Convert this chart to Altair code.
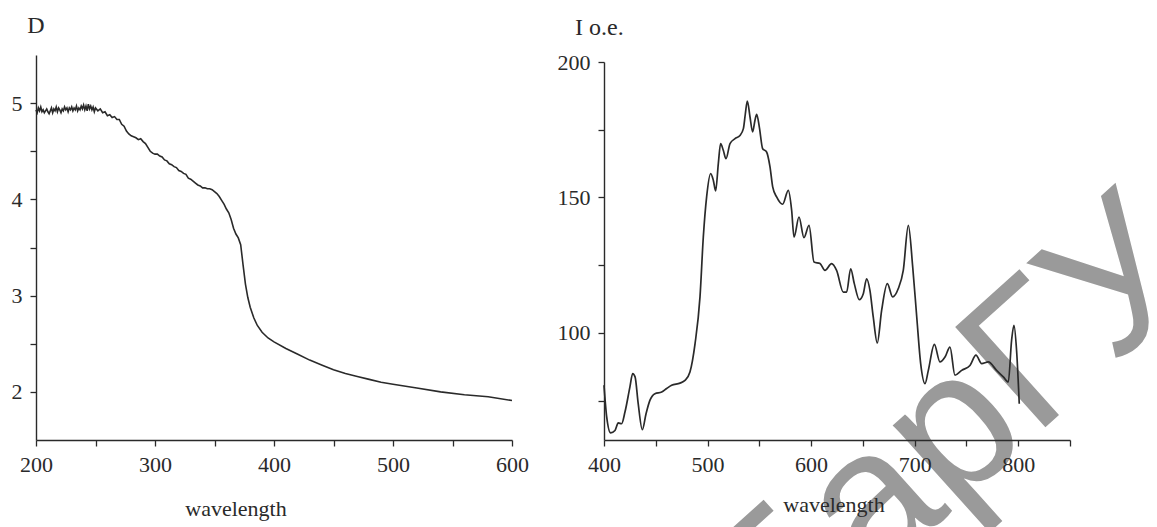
import altair as alt
import pandas as pd

# ---------------- data ----------------
# left panel: absorption D vs wavelength
wl_abs = [200, 201, 202, 203, 204, 205, 206, 207, 208, 209, 210, 211, 212, 213, 214, 215, 216,
          217, 218, 219, 220, 221, 222, 223, 224, 225, 226, 227, 228, 229, 230, 231, 232, 233,
          234, 235, 236, 237, 238, 239, 240, 241, 242, 243, 244, 245, 246, 247, 248, 249, 250,
          252, 254, 256, 258, 260, 262, 264, 266, 268, 270, 272, 274, 276, 278, 280, 282, 284,
          286, 288, 290, 292, 294, 296, 298, 300, 302, 304, 306, 308, 310, 312, 314, 316, 318,
          320, 322, 324, 326, 328, 330, 332, 334, 336, 338, 340, 342, 344, 346, 348, 350, 352,
          354, 356, 358, 360, 362, 364, 366, 368, 370, 372, 374, 376, 378, 380, 383, 386, 390,
          395, 400, 410, 420, 430, 440, 450, 460, 470, 480, 490, 500, 520, 540, 560, 580, 600]
d_abs = [4.93, 4.90, 4.95, 4.92, 4.96, 4.91, 4.93, 4.90, 4.92, 4.94, 4.91, 4.89, 4.92, 4.95, 4.90, 4.94, 4.92,
         4.96, 4.91, 4.95, 4.93, 4.90, 4.94, 4.92, 4.96, 4.93, 4.95, 4.91, 4.95, 4.93, 4.96, 4.92, 4.95, 4.93,
         4.97, 4.92, 4.95, 4.93, 4.97, 4.94, 4.98, 4.93, 4.97, 4.92, 4.99, 4.94, 4.97, 4.93, 4.96, 4.91, 4.95,
         4.92, 4.94, 4.90, 4.91, 4.87, 4.88, 4.85, 4.86, 4.83, 4.83, 4.78, 4.76, 4.71, 4.68, 4.66, 4.65, 4.64,
         4.62, 4.63, 4.60, 4.58, 4.54, 4.50, 4.48, 4.47, 4.47, 4.45, 4.44, 4.41, 4.40, 4.37, 4.36, 4.34, 4.33,
         4.30, 4.29, 4.27, 4.26, 4.22, 4.21, 4.19, 4.17, 4.15, 4.14, 4.12, 4.12, 4.11, 4.11, 4.10, 4.08, 4.06,
         4.03, 3.99, 3.95, 3.90, 3.86, 3.79, 3.70, 3.64, 3.60, 3.53, 3.32, 3.12, 2.98, 2.88, 2.77, 2.69, 2.62,
         2.56, 2.52, 2.45, 2.39, 2.33, 2.28, 2.23, 2.19, 2.16, 2.13, 2.10, 2.08, 2.04, 2.00, 1.97, 1.95, 1.91]

# right panel: emission intensity vs wavelength
wl_em = [400, 402.6, 406.4, 410.6, 413.8, 417, 420.3, 425, 427.7, 430, 433, 437, 440.6, 444.4,
         449.2, 455.7, 460.5, 465.3, 473.4, 478.2, 483, 487.9, 492.7, 495.9, 499.1, 503, 505.6,
         507.8, 510.4, 512.6, 515.2, 517.8, 521.7, 526.5, 531.3, 534.6, 536.5, 538.4, 541, 543.5,
         545.8, 547.4, 550, 553.2, 557, 560.3, 562.9, 566.7, 572.5, 578, 581.2, 583.5, 588.3,
         593.1, 598, 602.8, 608.6, 613.4, 619.8, 624.6, 631.1, 634.3, 638.2, 641.7, 646.5, 650.4,
         653.6, 656.8, 660, 663.9, 668.1, 673.6, 678.7, 684.2, 689, 693.9, 698.1, 702, 705.8,
         710, 713.2, 719, 724.4, 729.3, 734.1, 738.9, 745.4, 753.4, 759.2, 764.7, 771.1, 779.1,
         785.6, 790.4, 793.6, 795.9, 798.4, 801]
i_em = [80.7, 69, 63.1, 64, 66.8, 66.5, 70.9, 80, 85, 83.8, 74, 64.3, 70.2, 75.2,
        77.6, 78.2, 79.5, 80.7, 81.5, 82.5, 85.6, 96, 113.3, 135.4, 150.2, 158.8, 156.3,
        152.4, 162.5, 169.9, 167.4, 164.3, 169.9, 171.7, 172.9, 175.4, 180.9, 185.6, 179.7, 174.2,
        178.5, 180.7, 176, 168, 166.8, 161.3, 153.9, 150.2, 147.5, 152.6, 145.3, 135.4, 142.8,
        135.2, 139.7, 126.2, 125.6, 123.1, 125.6, 123.1, 115.1, 115.1, 123.7, 118.2, 112.3, 114.5,
        120, 115.7, 105.9, 96.3, 108.3, 118.2, 113.3, 116.4, 123.1, 139.7, 124.4, 105.9, 88.7,
        81.3, 86.2, 95.8, 89.3, 91.1, 94.8, 84.4, 86.2, 88, 91.8, 88.7, 89.3, 86.2,
        83.8, 81.9, 97.3, 102.8, 93.6, 73.9]

left_ticks = [200, 250, 300, 350, 400, 450, 500, 550, 600]
left_yticks = [2, 2.5, 3, 3.5, 4, 4.5, 5]
right_ticks = [400, 450, 500, 550, 600, 650, 700, 750, 800, 850]
right_yticks = [75, 100, 125, 150, 175, 200]

texts_left = ["D", "wavelength"]
texts_right = ["I o.e.", "wavelength"]
watermark = ["БарГУ"]

# ---------------- styling / layout ----------------
W, H = 1141, 519
AXIS_Y = 432  # x-axis line position inside the drawing area
FONT = "Liberation Serif"
INK = "#2a2a2a"

abs_df = pd.DataFrame({"wl1": wl_abs, "D": d_abs})
em_df = pd.DataFrame({"wl2": wl_em, "I": i_em})


def axis(**kw):
    base = dict(domainColor=INK, domainWidth=1.4, tickColor=INK, tickWidth=1.3, tickSize=6,
                labelFont=FONT, labelFontSize=22, labelColor=INK, labelPadding=8,
                grid=False, title=None, zindex=1, labelFlush=False, labelOverlap=False)
    base.update(kw)
    return alt.Axis(**base)


left = alt.Chart(abs_df).mark_line(color=INK, strokeWidth=1.6).encode(
    x=alt.X("wl1:Q",
            scale=alt.Scale(domain=[200, 600], range=[28, 504], nice=False, zero=False),
            axis=axis(values=left_ticks, orient="bottom", offset=-(H - AXIS_Y),
                      labelExpr="datum.value % 100 == 0 ? format(datum.value, 'd') : ''")),
    y=alt.Y("D:Q",
            scale=alt.Scale(domain=[1.5, 5.5], range=[AXIS_Y, 47], nice=False, zero=False),
            axis=axis(values=left_yticks, orient="left", offset=-28,
                      labelExpr="datum.value % 1 == 0 ? format(datum.value, 'd') : ''")),
)

right = alt.Chart(em_df).mark_line(color=INK, strokeWidth=1.7, interpolate="monotone").encode(
    x=alt.X("wl2:Q",
            scale=alt.Scale(domain=[400, 850], range=[596, 1062], nice=False, zero=False),
            axis=axis(values=right_ticks, orient="bottom", offset=-(H - AXIS_Y),
                      labelExpr="(datum.value % 100 == 0 && datum.value <= 800) ? format(datum.value, 'd') : ''")),
    y=alt.Y("I:Q",
            scale=alt.Scale(domain=[60.5, 200], range=[AXIS_Y, 54], nice=False, zero=False),
            axis=axis(values=right_yticks, orient="left", offset=-596,
                      labelExpr="datum.value % 50 == 0 ? format(datum.value, 'd') : ''")),
)

wm = alt.Chart(pd.DataFrame({"t": watermark})).mark_text(
    font="Liberation Sans", fontSize=196, color="#9a9a9a", angle=318,
    align="left", baseline="alphabetic"
).encode(text="t:N", x=alt.value(768), y=alt.value(662))


def label(txt, x, y, size=22, align="center"):
    return alt.Chart(pd.DataFrame({"t": [txt]})).mark_text(
        font=FONT, fontSize=size, color=INK, align=align, baseline="alphabetic"
    ).encode(text="t:N", x=alt.value(x), y=alt.value(y))


lab_d = label(texts_left[0], 28, 25, size=24)
lab_wl1 = label(texts_left[1], 228, 508)
lab_i = label(texts_right[0], 567, 27, size=24, align="left")
lab_wl2 = label(texts_right[1], 826, 504)

chart = alt.layer(wm, left, right, lab_d, lab_wl1, lab_i, lab_wl2).resolve_scale(
    x="independent", y="independent"
).properties(
    width=W, height=H, autosize=alt.AutoSizeParams(type="none"), padding=0
).configure_view(stroke=None)

chart.save("out.html", embed_options={"renderer": "svg", "actions": False})
